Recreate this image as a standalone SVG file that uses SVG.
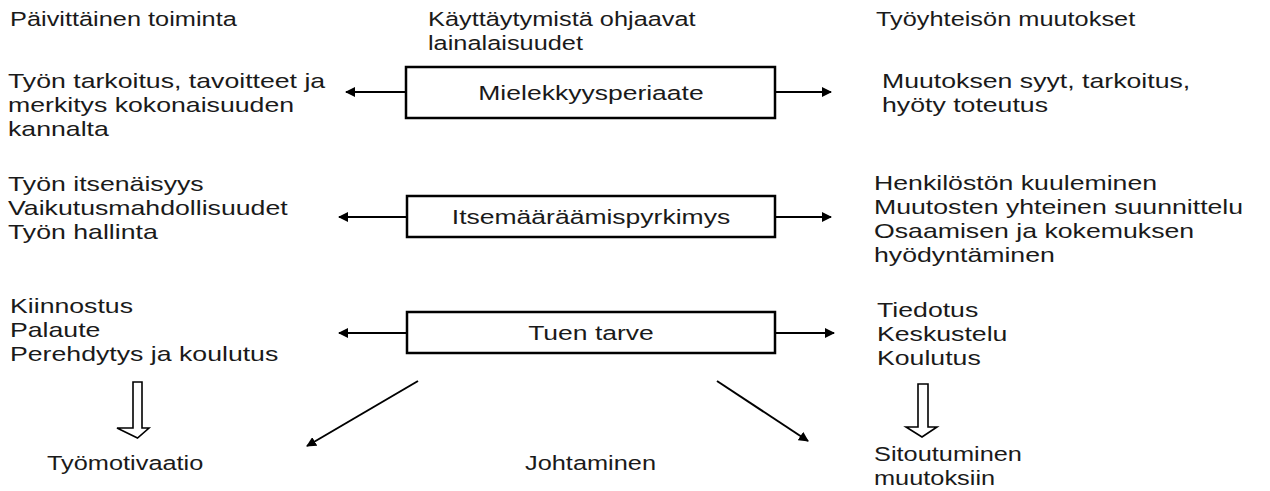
<svg xmlns="http://www.w3.org/2000/svg" width="1270" height="491" viewBox="0 0 1270 491">
<style>
text{font-family:"Liberation Sans",Arial,sans-serif;fill:#1a1a1a;transform-box:fill-box}
.s{font-size:21px;transform-origin:0 0;transform:scale(1.27,1)}
.m{font-size:19.5px;transform-origin:0 0;transform:scale(1.3,1)}
.c{font-size:19.5px;text-anchor:middle;transform-origin:50% 0;transform:scale(1.36,1)}
.box{fill:#fff;stroke:#000;stroke-width:2.5}
.ln{stroke:#000;stroke-width:2;fill:none}
.hol{fill:#fff;stroke:#000;stroke-width:1.6}
</style>
<defs>
<marker id="ah" viewBox="0 0 10 10" refX="9" refY="5" markerWidth="5" markerHeight="5" orient="auto-start-reverse" markerUnits="strokeWidth">
<path d="M0,0 L10,5 L0,10 z" fill="#000"/>
</marker>
</defs>
<rect width="1270" height="491" fill="#fff"/>
<g id="headers">
<text class="m" x="10" y="26">Päivittäinen toiminta</text>
<text class="m" x="428" y="26">Käyttäytymistä ohjaavat</text>
<text class="m" x="428" y="50">lainalaisuudet</text>
<text class="m" x="876" y="26">Työyhteisön muutokset</text>
</g>
<g id="node-mielekkyys">
<rect class="box" x="406" y="67" width="369" height="51"/>
<text class="c" x="591" y="100">Mielekkyysperiaate</text>
</g>
<g id="node-itsemaaraamis">
<rect class="box" x="407" y="196" width="368" height="41"/>
<text class="c" x="591" y="224">Itsemääräämispyrkimys</text>
</g>
<g id="node-tuen">
<rect class="box" x="407" y="312" width="368" height="41"/>
<text class="c" x="591" y="340">Tuen tarve</text>
</g>
<g id="left-1">
<text class="s" x="8" y="88">Työn tarkoitus, tavoitteet ja</text>
<text class="s" x="8" y="112">merkitys kokonaisuuden</text>
<text class="s" x="8" y="136">kannalta</text>
</g>
<g id="right-1">
<text class="s" x="882" y="88">Muutoksen syyt, tarkoitus,</text>
<text class="s" x="882" y="112">hyöty toteutus</text>
</g>
<g id="left-2">
<text class="s" x="8" y="191">Työn itsenäisyys</text>
<text class="s" x="8" y="215">Vaikutusmahdollisuudet</text>
<text class="s" x="8" y="239">Työn hallinta</text>
</g>
<g id="right-2">
<text class="s" x="874" y="190">Henkilöstön kuuleminen</text>
<text class="s" x="874" y="214">Muutosten yhteinen suunnittelu</text>
<text class="s" x="874" y="238">Osaamisen ja kokemuksen</text>
<text class="s" x="874" y="262">hyödyntäminen</text>
</g>
<g id="left-3">
<text class="s" x="10" y="313">Kiinnostus</text>
<text class="s" x="10" y="337">Palaute</text>
<text class="s" x="10" y="361">Perehdytys ja koulutus</text>
</g>
<g id="right-3">
<text class="s" x="877" y="317">Tiedotus</text>
<text class="s" x="877" y="341">Keskustelu</text>
<text class="s" x="877" y="365">Koulutus</text>
</g>
<g id="node-tyomotivaatio"><text class="m" x="47" y="470">Työmotivaatio</text></g>
<g id="node-johtaminen"><text class="m" x="525" y="470">Johtaminen</text></g>
<g id="node-sitoutuminen">
<text class="m" x="874" y="461">Sitoutuminen</text>
<text class="m" x="874" y="485">muutoksiin</text>
</g>
<g id="connectors">
<line class="ln" x1="406" y1="92" x2="346" y2="92" marker-end="url(#ah)"/>
<line class="ln" x1="775" y1="92" x2="831" y2="92" marker-end="url(#ah)"/>
<line class="ln" x1="407" y1="217" x2="339" y2="217" marker-end="url(#ah)"/>
<line class="ln" x1="775" y1="217" x2="831" y2="217" marker-end="url(#ah)"/>
<line class="ln" x1="407" y1="333" x2="339" y2="333" marker-end="url(#ah)"/>
<line class="ln" x1="775" y1="333" x2="834" y2="333" marker-end="url(#ah)"/>
<line class="ln" x1="418" y1="381" x2="307" y2="446" marker-end="url(#ah)"/>
<line class="ln" x1="717" y1="381" x2="808" y2="441" marker-end="url(#ah)"/>
<path class="hol" d="M133,382 H142 V428 H149 L137.5,438 L117,428 H133 Z"/>
<path class="hol" d="M918,384 H928 V427 H937 L922,437 L906,427 H918 Z"/>
</g>
</svg>
